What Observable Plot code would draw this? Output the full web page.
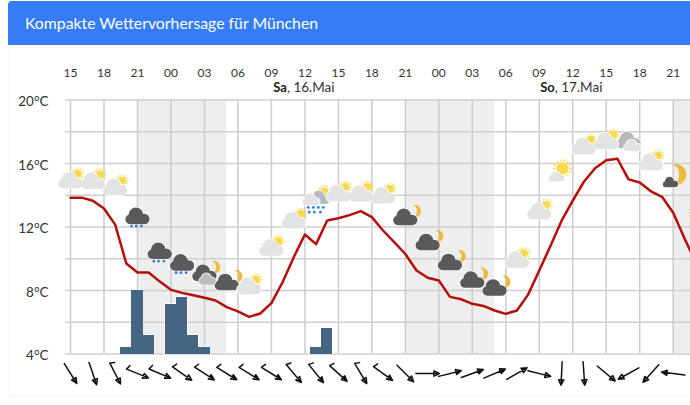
<!DOCTYPE html>
<html lang="de"><head><meta charset="utf-8">
<script src="https://cdn.jsdelivr.net/npm/d3@7"></script>
<script src="https://cdn.jsdelivr.net/npm/@observablehq/plot@0.6"></script>
<style>
html,body{margin:0;padding:0;background:#fff;overflow:hidden;width:690px;height:405px}
#card{position:absolute;left:8px;top:1px;width:700px;height:396px;border:1px solid #f5f5f5;border-radius:4px;box-sizing:border-box}
#title{position:absolute;left:8px;top:1px;width:700px;height:44px;background:#367cf7;border-radius:4px 4px 0 0;color:#fff;font:15.8px Lato,sans-serif;line-height:44px;padding-left:17px;box-sizing:border-box}
#chart{position:absolute;left:0;top:45px}
#chart svg{background:transparent;display:block}
</style></head><body>
<div id="card"></div><div id="title">Kompakte Wettervorhersage für München</div><div id="chart"></div>
<script>
const tempHours = d3.range(0, 57);
const temps = [13.85,13.85,13.65,13.16,12.15,9.7,9.13,9.13,8.56,8.04,7.85,7.7,7.54,7.37,6.95,6.68,6.34,6.55,7.2,8.52,10.1,11.53,10.92,12.41,12.55,12.75,13.0,12.62,11.78,11.05,10.3,9.26,8.8,8.63,7.6,7.45,7.16,7.03,6.74,6.53,6.74,7.74,9.26,10.8,12.4,13.66,14.85,15.7,16.2,16.3,15.0,14.8,14.25,13.9,12.9,11.3,9.8];
const tickHours = d3.range(0, 55, 3);
const tickLabels = ["15","18","21","00","03","06","09","12","15","18","21","00","03","06","09","12","15","18","21"];
const yTicks = [4,8,12,16,20];
const gridY = [4,6,8,10,12,14,16,18,20];
const nightStart = [6,30,54];
const nightEnd = [14,38,56];
const barHours = [5,6,7,9,10,11,12,22,23];
const barTops = [4.4,8,5.16,7.14,7.56,5.16,4.4,4.4,5.6];
const dayHours = [21,45];
const dayNames = ["Sa","So"];
const dayDates = [", 16.Mai",", 17.Mai"];
const iconHours = d3.range(0, 57, 2);
const iconY = [14.93,14.89,14.5,12.68,10.48,9.75,9.09,8.52,8.27,10.69,12.41,13.86,14.11,14.11,13.98,12.62,11.04,9.78,8.67,8.17,9.93,12.98,15.68,17.09,17.4,17.45,16.08,15.24,12.9];
const iconKinds = ["p","p","p","r","r","r","m","n","p","p","p","x","p","p","p","n","n","n","n","n","p","p","s","p","p","g","p","b","t"];
const windHours = d3.range(0, 55, 2);
const windRot = [148,161,153,112,113,125,123,122,122,122,140,141,132,149,126,135,90,76,70,67,60,104,183,176,130,241,222,277];
const windHook = [0,0,1,1,1,1,1,1,1,1,1,1,1,1,1,0,0,0,0,0,0,0,0,0,0,0,0,0];

const rowsT = tempHours.map((h,i)=>({h,t:temps[i]}));
const rowsB = barHours.map((h,i)=>({a:h-.5,b:h+.5,t:barTops[i]}));
const rowsN = nightStart.map((a,i)=>({a,b:nightEnd[i]}));
const rowsI = iconHours.map((h,i)=>({h,y:iconY[i],k:iconKinds[i]}));
const rowsW = windHours.map((h,i)=>({h,r:windRot[i],k:windHook[i]}));
const rowsD = dayHours.map((h,i)=>({h,n:dayNames[i],d:dayDates[i]}));

const rad = Math.PI/180;
function cloud(s=1,ox=0,oy=0){return {draw(c){
  const lobes=[[-7,3,4.6],[-1.5,-1.2,7],[6.5,2.6,5]];
  for(const [x,y,r] of lobes){c.moveTo(ox+s*(x+r),oy+s*y);c.arc(ox+s*x,oy+s*y,s*r,0,2*Math.PI);c.closePath();}
  c.moveTo(ox+s*-7,oy+s*-1);c.lineTo(ox+s*6.5,oy+s*-1);c.lineTo(ox+s*6.5,oy+s*7.6);c.lineTo(ox+s*-7,oy+s*7.6);c.closePath();
}};}
function sun(disc,r1,r2,n,w,ox=0,oy=0){return {draw(c){
  if(disc>0){c.moveTo(ox+disc,oy);c.arc(ox,oy,disc,0,2*Math.PI);c.closePath();}
  for(let i=0;i<n;i++){
    const a=i*2*Math.PI/n,ca=Math.cos(a),sa=Math.sin(a);
    c.moveTo(ox+r1*ca-w*sa,oy+r1*sa+w*ca);
    c.lineTo(ox+r2*ca,oy+r2*sa);
    c.lineTo(ox+r1*ca+w*sa,oy+r1*sa-w*ca);
    c.closePath();
  }
}};}
function moon(r,ox=0,oy=0){return {draw(c){
  c.moveTo(ox+r*Math.cos(-105*rad),oy+r*Math.sin(-105*rad));
  c.arc(ox,oy,r,-105*rad,105*rad,false);
  c.arc(ox-.75*r,oy,1.083*r,63*rad,-63*rad,true);
  c.closePath();
}};}
function drops(pts){return {draw(c){
  for(const [x,y] of pts){c.moveTo(x+1.4,y);c.arc(x,y,1.4,0,2*Math.PI);c.closePath();}
}};}
const kind = k => d => k.includes(d.k);
const dot = (sym,fill,k,halo) => Plot.dot(rowsI,{x:"h",y:"y",r:1,symbol:sym,fill,filter:kind(k),stroke:halo?"#fff":"none",strokeWidth:halo?1.4:0});
const both = (sym,fill,k) => [dot(sym,"#fff",k,true),dot(sym,fill,k,false)];

const barbArrow = hook => ({draw(c,l){
  c.moveTo(0,0);c.lineTo(0,-l);
  c.moveTo(-2.6,-l+5.5);c.lineTo(0,-l);c.lineTo(2.6,-l+5.5);c.closePath();
  if(hook){c.moveTo(0,0);c.lineTo(-4.6,-1.8);}
}});
const wind = (v)=>Plot.vector(rowsW,{x:"h",y:()=>2.77,rotate:"r",length:23.5,anchor:"middle",shape:barbArrow(v),filter:d=>d.k===v,stroke:"#111",strokeWidth:1.5});

const chart = Plot.plot({
  width:690,height:360,marginLeft:65,marginRight:0,marginTop:54.5,marginBottom:51.5,
  style:{fontFamily:"Lato, sans-serif",color:"#333",background:"transparent",overflow:"hidden"},
  x:{domain:[-.45,55.55],axis:null},
  y:{domain:[4,20],axis:null},
  marks:[
    Plot.rect(rowsN,{x1:"a",x2:"b",y1:4,y2:20,fill:"#eeeeee"}),
    Plot.ruleX(tickHours,{y1:4,y2:20,stroke:"#cccccc",strokeWidth:1.5}),
    Plot.ruleY(gridY,{stroke:"#cfcfcf",strokeWidth:1.6}),
    Plot.axisX({anchor:"top",ticks:tickHours,tickFormat:h=>tickLabels[tickHours.indexOf(h)],tickSize:0,tickPadding:23,fontSize:12,fill:"#333"}),
    Plot.axisY({anchor:"left",ticks:yTicks,tickFormat:d=>d+"°C",tickSize:0,tickPadding:17,dy:2,fontSize:13.5,fill:"#333"}),
    Plot.text(rowsD,{x:"h",y:()=>20,text:"n",dx:-18,dy:-12.5,textAnchor:"end",fontWeight:700,fontSize:13,fill:"#222"}),
    Plot.text(rowsD,{x:"h",y:()=>20,text:"d",dx:-18,dy:-12.5,textAnchor:"start",fontSize:13.5,fill:"#333"}),
    Plot.rect(rowsB,{x1:"a",x2:"b",y1:4,y2:"t",fill:"#fff",stroke:"#fff",strokeWidth:1.2}),
    Plot.rect(rowsB,{x1:"a",x2:"b",y1:4,y2:"t",fill:"#446683",shapeRendering:"crispEdges"}),
    Plot.line(rowsT,{x:"h",y:"t",stroke:"#b50f0a",strokeWidth:2.5,curve:"linear"}),
    // sun behind light clouds
    dot(sun(4,4.8,7,12,1,7,-6.5),"#f7d94e","p",false),
    dot(sun(4,4.8,7,12,1,8,-6),"#f7d94e","x",false),
    dot(sun(0,6,7.6,12,.9,0,0),"#f7d94e","t",false),
    // moon behind dark clouds
    dot(moon(6.3,9.5,-6),"#f0b93c","mn",false),
    dot(moon(10.5,2.5,-1),"#f0b93c","b",false),
    // background heavy clouds
    ...both(cloud(.85,4,0),"#b9b9b9","x"),
    ...both(cloud(1.05),"#b9b9b9","g"),
    ...both(cloud(1.05),"#5a5a5a","rmn"),
    // front clouds
    ...both(cloud(1.05),"#e3e3e3","p"),
    ...both(cloud(.75,-5,2),"#e3e3e3","x"),
    ...both(cloud(.75,4,5),"#e3e3e3","g"),
    ...both(cloud(.72,3,6),"#bdbdbd","m"),
    ...both(cloud(.66,-2.7,6.7),"#5a5a5a","b"),
    // big sun
    dot(sun(6,7.2,10.2,14,1.2,1,0),"#f9d84a","s",false),
    ...both(cloud(.66,-5,8),"#e3e3e3","s"),
    // rain
    dot(drops([[-6,10],[-1.3,10],[4,10]]),"#3b78cf","r",false),
    dot(drops([[-7.7,10],[-2.7,10],[2.3,10],[7.3,10],[-6.7,14.7],[-1.7,14.7],[4.3,14.7]]),"#2a7be8","x",false),
    wind(0),wind(1)
  ]
});
document.getElementById("chart").append(chart);
</script>
</body></html>
